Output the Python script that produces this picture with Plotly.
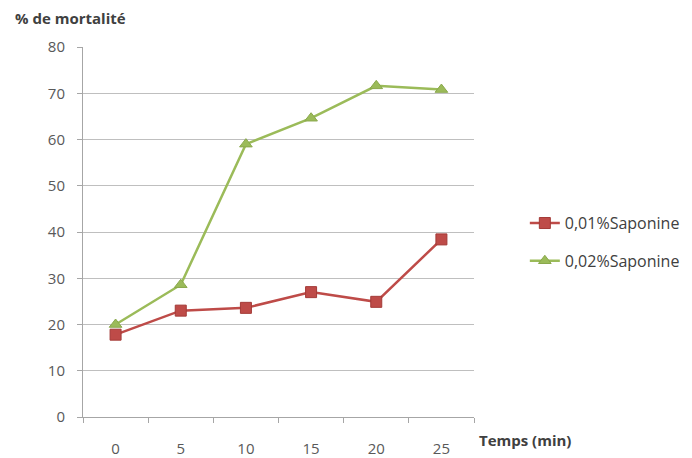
import plotly.graph_objects as go

categories = ["0", "5", "10", "15", "20", "25"]
saponine_001 = [17.8, 23.0, 23.6, 27.0, 24.9, 38.4]
saponine_002 = [20.0, 28.6, 59.0, 64.6, 71.6, 70.8]
series_names = ["0,01%Saponine", "0,02%Saponine"]
y_ticks = [0, 10, 20, 30, 40, 50, 60, 70, 80]

font_family = "Open Sans, Liberation Sans, sans-serif"

fig = go.Figure()
fig.add_trace(go.Scatter(
    x=categories, y=saponine_001, name=series_names[0], mode="lines+markers",
    line=dict(color="#be4b48", width=2.5),
    marker=dict(symbol="square", size=11, color="#be4b48",
                line=dict(color="#a33a37", width=1)),
    legend="legend",
))
fig.add_trace(go.Scatter(
    x=categories, y=saponine_002, name=series_names[1], mode="lines+markers",
    line=dict(color="#9bbb59", width=2.5),
    marker=dict(symbol="triangle-up", size=11, color="#9bbb59",
                line=dict(color="#8aa84c", width=1)),
    legend="legend2",
))

legend_common = dict(xanchor="left", yanchor="middle",
                     font=dict(size=16, color="#404040"),
                     bgcolor="rgba(0,0,0,0)", borderwidth=0)

fig.update_layout(
    width=684, height=450,
    margin=dict(l=75, r=218, t=39, b=41, autoexpand=False),
    paper_bgcolor="white", plot_bgcolor="white",
    font=dict(family=font_family, size=15, color="#595959"),
    showlegend=True,
    legend=dict(x=1.13, y=0.524, **legend_common),
    legend2=dict(x=1.13, y=0.422, **legend_common),
    xaxis=dict(type="category", range=[-0.5, 5.5], tickson="boundaries",
               ticks="outside", ticklen=5, tickcolor="#a6a6a6", showline=True,
               linecolor="#a6a6a6", linewidth=1, showgrid=False,
               ticklabelstandoff=18, automargin=False,
               tickfont=dict(size=15, color="#595959")),
    yaxis=dict(range=[0, 80], tickvals=y_ticks, ticks="outside", ticklen=5,
               tickcolor="#a6a6a6", showline=True, linecolor="#a6a6a6",
               linewidth=1, showgrid=True, gridcolor="#bfbfbf", gridwidth=1,
               zeroline=False, ticklabelstandoff=9, automargin=False,
               tickfont=dict(size=15, color="#595959")),
    annotations=[
        dict(text="<b>% de mortalité</b>", xref="paper", yref="paper",
             x=-0.178, y=1.078, xanchor="left", yanchor="middle", showarrow=False,
             font=dict(size=15, color="#404040")),
        dict(text="<b>Temps (min)</b>", xref="paper", yref="paper",
             x=1.008, y=-0.062, xanchor="left", yanchor="middle", showarrow=False,
             font=dict(size=15, color="#404040")),
    ],
)

fig.write_html("out.html")
